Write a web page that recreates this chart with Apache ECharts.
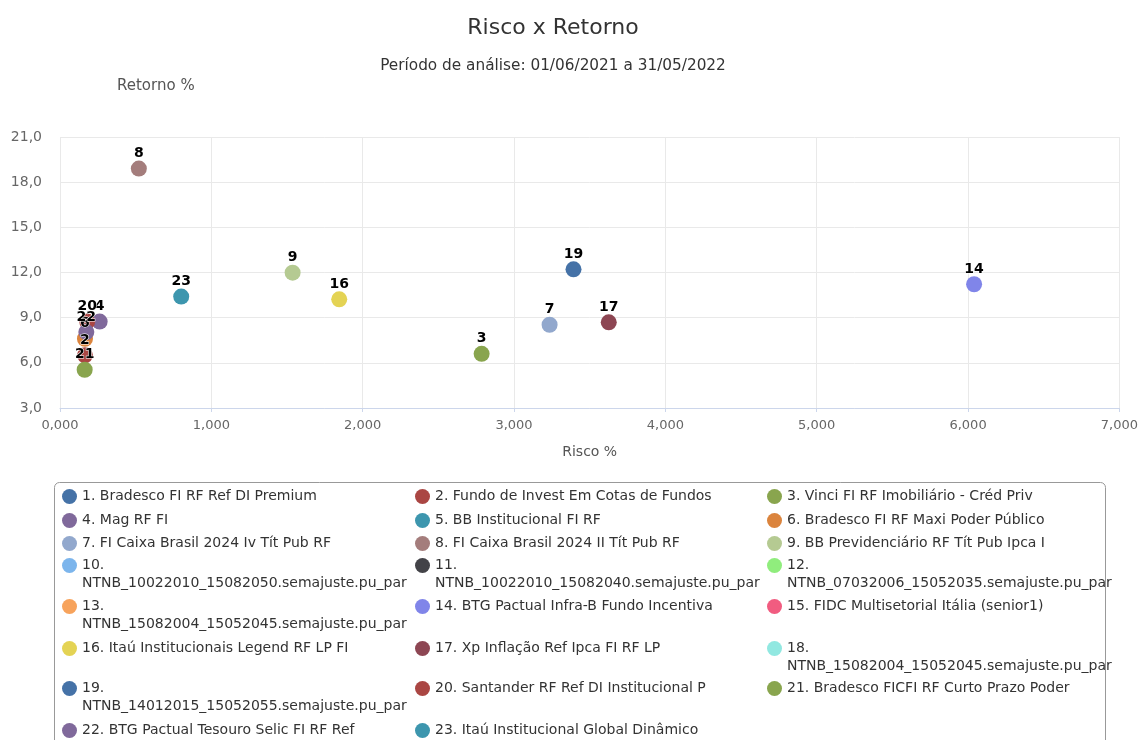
<!DOCTYPE html>
<html><head><meta charset="utf-8">
<script src="https://cdn.jsdelivr.net/npm/echarts@6/dist/echarts.min.js"></script>
<style>html,body{margin:0;padding:0;background:#fff}#c{width:1141px;height:740px}</style>
</head><body><div id="c"></div>
<script>
const FONT = 'DejaVu Sans';
const chartTitle = 'Risco x Retorno';
const chartSubtitle = 'Período de análise: 01/06/2021 a 31/05/2022';
const xAxisName = 'Risco %';
const yAxisName = 'Retorno %';

const fundNames = [
  '1. Bradesco FI RF Ref DI Premium',
  '2. Fundo de Invest Em Cotas de Fundos',
  '3. Vinci FI RF Imobiliário - Créd Priv',
  '4. Mag RF FI',
  '5. BB Institucional FI RF',
  '6. Bradesco FI RF Maxi Poder Público',
  '7. FI Caixa Brasil 2024 Iv Tít Pub RF',
  '8. FI Caixa Brasil 2024 II Tít Pub RF',
  '9. BB Previdenciário RF Tít Pub Ipca I',
  '10. NTNB_10022010_15082050.semajuste.pu_par',
  '11. NTNB_10022010_15082040.semajuste.pu_par',
  '12. NTNB_07032006_15052035.semajuste.pu_par',
  '13. NTNB_15082004_15052045.semajuste.pu_par',
  '14. BTG Pactual Infra-B Fundo Incentiva',
  '15. FIDC Multisetorial Itália (senior1)',
  '16. Itaú Institucionais Legend RF LP FI',
  '17. Xp Inflação Ref Ipca FI RF LP',
  '18. NTNB_15082004_15052045.semajuste.pu_par',
  '19. NTNB_14012015_15052055.semajuste.pu_par',
  '20. Santander RF Ref DI Institucional P',
  '21. Bradesco FICFI RF Curto Prazo Poder',
  '22. BTG Pactual Tesouro Selic FI RF Ref',
  '23. Itaú Institucional Global Dinâmico'
];
const pointLabels = ['1','2','3','4','5','6','7','8','9','10','11','12','13','14','15','16','17','18','19','20','21','22','23'];

// Risco % (x) and Retorno % (y); null = no point
const riscoValues = [null, 0.165, 2.786, 0.262, null, 0.165, 3.235, 0.521, 1.537, null, null, null, null, 6.040, null, 1.845, 3.626, null, 3.393, 0.180, 0.163, 0.174, 0.801];
const retornoValues = [null, 6.50, 6.60, 8.74, null, 7.60, 8.53, 18.90, 11.99, null, null, null, null, 11.22, null, 10.22, 8.69, null, 12.21, 8.74, 5.54, 8.04, 10.40];

const seriesColors = ['#4572A7','#AA4643','#89A54E','#80699B','#3D96AE','#DB843D','#92A8CD','#A47D7C','#B5CA92',
  '#7cb5ec','#434348','#90ed7d','#f7a35c','#8085e9','#f15c80','#e4d354','#8d4653','#91e8e1',
  '#4572A7','#AA4643','#89A54E','#80699B','#3D96AE'];

const xTicks = {min: 0, max: 7, interval: 1};
const yTicks = {min: 3, max: 21, interval: 3};

// legend layout (rows of 3 columns)
const legendRows = [[0,1,2],[3,4,5],[6,7,8],[9,10,11],[12,13,14],[15,16,17],[18,19,20],[21,22]];
const legendRowY = [497, 521, 544, 566, 607, 649, 689, 731];
const legendColX = [62, 415, 767];
const wrappedItems = new Set([9,10,11,12,17,18]);

const series = fundNames.map((name, i) => ({
  type: 'scatter',
  name: name,
  symbol: 'circle',
  symbolSize: 16,
  itemStyle: {color: seriesColors[i], opacity: 1},
  label: {
    show: true, position: 'top', distance: 0,
    formatter: () => pointLabels[i],
    color: '#000', fontFamily: FONT, fontWeight: 'bold', fontSize: 14,
    textBorderColor: '#fff', textBorderWidth: 1
  },
  emphasis: {disabled: true},
  data: riscoValues[i] === null ? [] : [[riscoValues[i], retornoValues[i]]],
  z: 2
}));

const legends = [];
legendRows.forEach((row, r) => {
  row.forEach((idx, c) => {
    const wrapped = wrappedItems.has(idx);
    legends.push({
      show: true,
      data: [{name: fundNames[idx], icon: 'circle'}],
      left: legendColX[c],
      top: wrapped ? legendRowY[r] - 27.5 : legendRowY[r] - 9.5,
      padding: 0,
      itemWidth: 15, itemHeight: 15, itemGap: 0,
      formatter: (n) => wrapped ? '\n' + n.replace('. ', '.\n') : n,
      textStyle: {fontFamily: FONT, fontSize: 14, color: '#333', lineHeight: 18}
    });
  });
});

const chart = echarts.init(document.getElementById('c'), null, {renderer: 'canvas'});
chart.setOption({
  animation: false,
  backgroundColor: '#fff',
  title: [
    {text: chartTitle, left: 553, top: 17, textAlign: 'center', padding: 0,
     textStyle: {fontFamily: FONT, fontSize: 22, fontWeight: 'normal', color: '#333'}},
    {text: chartSubtitle, left: 553, top: 59, textAlign: 'center', padding: 0,
     textStyle: {fontFamily: FONT, fontSize: 15.3, fontWeight: 'normal', color: '#333'}}
  ],
  grid: {left: 60, right: 20, top: 137, bottom: 332, containLabel: false},
  xAxis: {
    type: 'value', min: xTicks.min, max: xTicks.max, interval: xTicks.interval,
    name: xAxisName, nameLocation: 'middle', nameGap: 37,
    nameTextStyle: {fontFamily: FONT, fontSize: 14, color: '#555'},
    axisLine: {show: true, lineStyle: {color: '#ccd6eb'}},
    axisTick: {show: true, length: 4, lineStyle: {color: '#ccd6eb'}},
    axisLabel: {fontFamily: FONT, fontSize: 13, color: '#666', margin: 11,
      formatter: v => v.toFixed(3).replace('.', ',')},
    splitLine: {show: true, lineStyle: {color: '#e9e9e9'}}
  },
  yAxis: {
    type: 'value', min: yTicks.min, max: yTicks.max, interval: yTicks.interval,
    name: yAxisName, nameLocation: 'end', nameGap: 43,
    nameTextStyle: {fontFamily: FONT, fontSize: 15, color: '#555', align: 'left', padding: [0, 0, 0, 57]},
    axisLine: {show: false}, axisTick: {show: false},
    axisLabel: {fontFamily: FONT, fontSize: 14, color: '#666', margin: 18,
      formatter: v => v.toFixed(1).replace('.', ',')},
    splitLine: {show: true, lineStyle: {color: '#e9e9e9'}}
  },
  legend: legends,
  graphic: [{
    type: 'rect', left: 52, top: 480, z: -1, silent: true,
    shape: {width: 1051, height: 300, r: 5},
    style: {fill: 'none', stroke: '#999', lineWidth: 1}
  }],
  series: series
});
</script></body></html>
